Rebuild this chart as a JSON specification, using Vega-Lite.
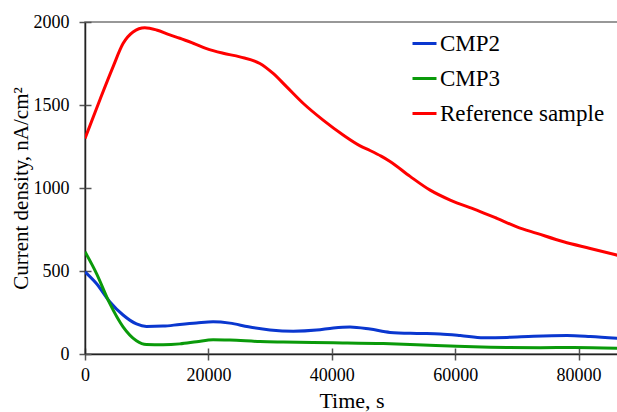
{
  "$schema": "https://vega.github.io/schema/vega-lite/v6.json",
  "width": 533,
  "height": 332,
  "autosize": {"type": "none"},
  "padding": {"left": 85, "top": 22, "right": 0, "bottom": 58},
  "background": "white",
  "config": {
    "view": {"stroke": "#777", "strokeWidth": 1.5},
    "font": "Liberation Serif",
    "axis": {"grid": false}
  },
  "data": {"values": [
    {"s": "Reference sample", "t": 0, "j": 1298},
    {"s": "Reference sample", "t": 2386, "j": 1529},
    {"s": "Reference sample", "t": 4545, "j": 1730},
    {"s": "Reference sample", "t": 6167, "j": 1870},
    {"s": "Reference sample", "t": 7790, "j": 1940},
    {"s": "Reference sample", "t": 9690, "j": 1965},
    {"s": "Reference sample", "t": 11590, "j": 1952},
    {"s": "Reference sample", "t": 13750, "j": 1922},
    {"s": "Reference sample", "t": 15370, "j": 1902},
    {"s": "Reference sample", "t": 17530, "j": 1872},
    {"s": "Reference sample", "t": 19700, "j": 1840},
    {"s": "Reference sample", "t": 22400, "j": 1812},
    {"s": "Reference sample", "t": 25100, "j": 1790},
    {"s": "Reference sample", "t": 28350, "j": 1750},
    {"s": "Reference sample", "t": 30500, "j": 1690},
    {"s": "Reference sample", "t": 32700, "j": 1609},
    {"s": "Reference sample", "t": 35400, "j": 1509},
    {"s": "Reference sample", "t": 38600, "j": 1409},
    {"s": "Reference sample", "t": 41900, "j": 1318},
    {"s": "Reference sample", "t": 44600, "j": 1254},
    {"s": "Reference sample", "t": 46200, "j": 1226},
    {"s": "Reference sample", "t": 48000, "j": 1192},
    {"s": "Reference sample", "t": 49450, "j": 1160},
    {"s": "Reference sample", "t": 52700, "j": 1070},
    {"s": "Reference sample", "t": 55950, "j": 987},
    {"s": "Reference sample", "t": 59200, "j": 927},
    {"s": "Reference sample", "t": 63500, "j": 867},
    {"s": "Reference sample", "t": 66770, "j": 817},
    {"s": "Reference sample", "t": 70000, "j": 766},
    {"s": "Reference sample", "t": 73260, "j": 727},
    {"s": "Reference sample", "t": 77580, "j": 676},
    {"s": "Reference sample", "t": 81900, "j": 636},
    {"s": "Reference sample", "t": 86400, "j": 594},
    {"s": "CMP2", "t": 0, "j": 495},
    {"s": "CMP2", "t": 1850, "j": 425},
    {"s": "CMP2", "t": 4010, "j": 315},
    {"s": "CMP2", "t": 6170, "j": 235},
    {"s": "CMP2", "t": 8340, "j": 181},
    {"s": "CMP2", "t": 9960, "j": 166},
    {"s": "CMP2", "t": 12660, "j": 168},
    {"s": "CMP2", "t": 15370, "j": 178},
    {"s": "CMP2", "t": 18080, "j": 187},
    {"s": "CMP2", "t": 20770, "j": 194},
    {"s": "CMP2", "t": 23490, "j": 186},
    {"s": "CMP2", "t": 26500, "j": 164},
    {"s": "CMP2", "t": 29980, "j": 145},
    {"s": "CMP2", "t": 33760, "j": 137},
    {"s": "CMP2", "t": 37550, "j": 144},
    {"s": "CMP2", "t": 40260, "j": 157},
    {"s": "CMP2", "t": 42960, "j": 163},
    {"s": "CMP2", "t": 46210, "j": 150},
    {"s": "CMP2", "t": 49450, "j": 130},
    {"s": "CMP2", "t": 53790, "j": 124},
    {"s": "CMP2", "t": 57570, "j": 121},
    {"s": "CMP2", "t": 60820, "j": 112},
    {"s": "CMP2", "t": 64610, "j": 98},
    {"s": "CMP2", "t": 68390, "j": 100},
    {"s": "CMP2", "t": 72710, "j": 107},
    {"s": "CMP2", "t": 78130, "j": 111},
    {"s": "CMP2", "t": 81920, "j": 105},
    {"s": "CMP2", "t": 86400, "j": 94},
    {"s": "CMP3", "t": 0, "j": 616},
    {"s": "CMP3", "t": 1850, "j": 486},
    {"s": "CMP3", "t": 4010, "j": 305},
    {"s": "CMP3", "t": 6170, "j": 164},
    {"s": "CMP3", "t": 8340, "j": 80},
    {"s": "CMP3", "t": 9960, "j": 57},
    {"s": "CMP3", "t": 12660, "j": 56},
    {"s": "CMP3", "t": 15370, "j": 61},
    {"s": "CMP3", "t": 18080, "j": 74},
    {"s": "CMP3", "t": 20770, "j": 86},
    {"s": "CMP3", "t": 23490, "j": 84},
    {"s": "CMP3", "t": 28350, "j": 75},
    {"s": "CMP3", "t": 32130, "j": 72},
    {"s": "CMP3", "t": 40260, "j": 68},
    {"s": "CMP3", "t": 48370, "j": 63},
    {"s": "CMP3", "t": 53790, "j": 56},
    {"s": "CMP3", "t": 59200, "j": 48},
    {"s": "CMP3", "t": 62970, "j": 43},
    {"s": "CMP3", "t": 68390, "j": 39},
    {"s": "CMP3", "t": 73800, "j": 38},
    {"s": "CMP3", "t": 79200, "j": 39},
    {"s": "CMP3", "t": 86400, "j": 34}
  ]},
  "layer": [
    {
      "mark": {"type": "line", "interpolate": "monotone", "strokeWidth": 3, "clip": true},
      "encoding": {
        "x": {
          "field": "t", "type": "quantitative",
          "scale": {"domain": [0, 86400], "nice": false, "zero": false},
          "axis": {
            "values": [0, 20000, 40000, 60000, 80000], "format": "d",
            "title": "Time, s", "titleFont": "Liberation Serif", "titleFontSize": 22, "titleFontWeight": "normal", "titleColor": "black", "titlePadding": 6,
            "labelFont": "Liberation Serif", "labelFontSize": 18, "labelColor": "black", "labelPadding": 6, "labelFlush": false,
            "domainColor": "#222", "domainWidth": 1.5, "tickColor": "#555", "tickWidth": 1.5, "tickSize": 6
          }
        },
        "y": {
          "field": "j", "type": "quantitative",
          "scale": {"domain": [0, 2000], "nice": false},
          "axis": {
            "values": [0, 500, 1000, 1500, 2000], "format": "d",
            "title": "Current density, nA/cm²", "titleFont": "Liberation Serif", "titleFontSize": 21, "titleFontWeight": "normal", "titleColor": "black", "titlePadding": 2,
            "labelFont": "Liberation Serif", "labelFontSize": 18, "labelColor": "black", "labelPadding": 10,
            "domainColor": "#222", "domainWidth": 1.5, "tickColor": "#555", "tickWidth": 1.5, "tickSize": 6
          }
        },
        "color": {
          "field": "s", "type": "nominal",
          "scale": {"domain": ["CMP2", "CMP3", "Reference sample"], "range": ["#0a37cf", "#0a9a0a", "#ff0000"]},
          "legend": {
            "title": null, "orient": "none", "legendX": 326, "legendY": 8,
            "symbolType": "stroke", "symbolSize": 576, "symbolStrokeWidth": 3,
            "labelFont": "Liberation Serif", "labelFontSize": 23, "labelColor": "black", "labelOffset": 2, "labelLimit": 400,
            "rowPadding": 9
          }
        }
      }
    },
    {
      "mark": {"type": "line", "opacity": 0},
      "encoding": {
        "x": {
          "field": "t", "type": "quantitative",
          "axis": {"orient": "bottom", "values": [0, 20000, 40000, 60000, 80000], "labels": false, "domain": false, "title": null, "tickColor": "#555", "tickWidth": 1.5, "tickSize": -6}
        },
        "y": {
          "field": "j", "type": "quantitative",
          "axis": {"orient": "left", "values": [0, 500, 1000, 1500, 2000], "labels": false, "domain": false, "title": null, "tickColor": "#555", "tickWidth": 1.5, "tickSize": -6}
        },
        "detail": {"field": "s", "type": "nominal"}
      }
    }
  ],
  "resolve": {"axis": {"x": "independent", "y": "independent"}}
}
